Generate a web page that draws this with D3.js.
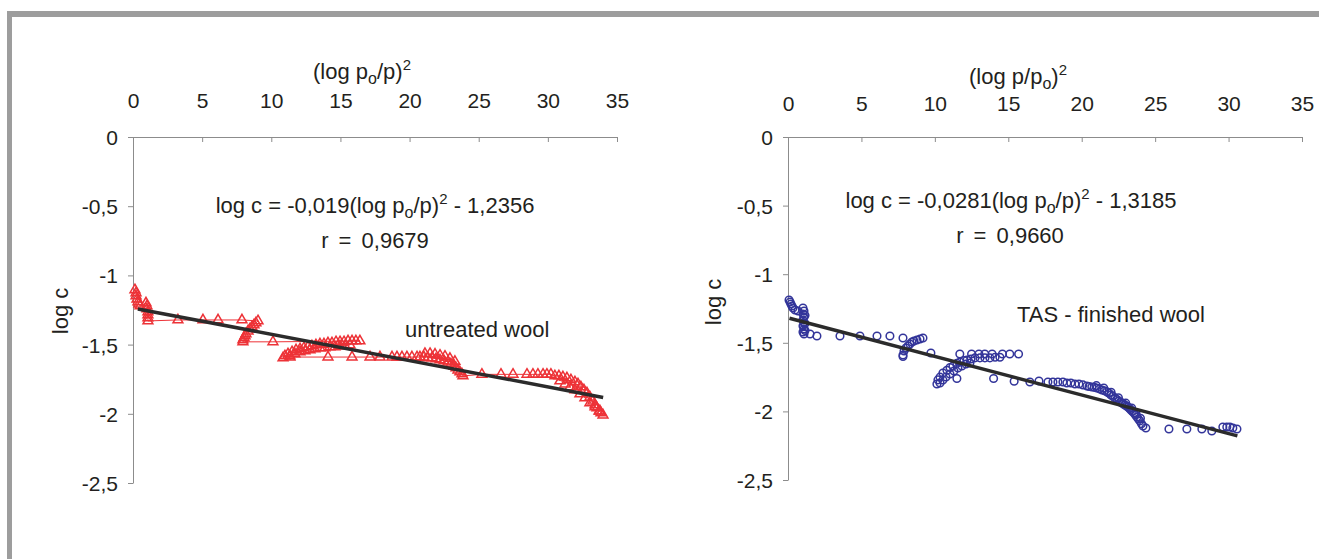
<!DOCTYPE html>
<html><head><meta charset="utf-8">
<script src="https://cdn.jsdelivr.net/npm/d3@7"></script>
<style>
body{margin:0;background:#fff}
svg{display:block}
text{font-family:"Liberation Sans",Arial,sans-serif;fill:#231f20}
</style></head>
<body><svg id="c" width="1319" height="559"></svg>
<script>
const xTicks=[0,5,10,15,20,25,30,35];
const yTicks=[0,-0.5,-1,-1.5,-2,-2.5];

// untreated wool (red triangles, joined in measurement order)
const untreated=[
[0.14,-1.105],[0.22,-1.127],[0.22,-1.149],[0.29,-1.171],[0.36,-1.192],[0.43,-1.207],[0.51,-1.221],
[0.94,-1.199],[1.01,-1.221],[1.01,-1.243],[1.08,-1.264],[1.08,-1.286],[1.08,-1.308],[1.08,-1.329],
[3.25,-1.322],[5.06,-1.322],[6.15,-1.322],[7.88,-1.322],
[9.04,-1.329],[8.89,-1.344],[8.75,-1.358],[8.60,-1.373],[8.46,-1.387],[8.32,-1.402],[8.17,-1.423],[8.10,-1.438],[8.03,-1.452],[7.95,-1.466],[7.95,-1.48],
[10.12,-1.48],
[16.41,-1.474],[16.12,-1.474],[15.84,-1.474],[15.69,-1.503],[15.55,-1.474],[15.33,-1.51],[15.26,-1.48],[14.97,-1.51],[14.97,-1.48],[14.68,-1.48],[14.61,-1.517],[14.39,-1.488],[14.24,-1.517],[14.10,-1.488],[13.88,-1.524],[13.81,-1.496],[13.52,-1.524],[13.52,-1.496],[13.23,-1.503],[13.16,-1.532],[12.94,-1.51],[12.80,-1.539],[12.65,-1.517],[12.44,-1.546],[12.36,-1.524],[12.08,-1.553],[12.08,-1.532],[11.79,-1.539],[11.71,-1.568],[11.50,-1.553],[11.35,-1.582],[11.21,-1.568],[10.99,-1.582],[10.85,-1.597],
[11.35,-1.59],[14.10,-1.59],[15.84,-1.59],[17.14,-1.59],[17.86,-1.59],[18.73,-1.59],[19.09,-1.59],[19.45,-1.59],[19.81,-1.59],[20.17,-1.59],[20.54,-1.59],
[20.75,-1.59],[21.04,-1.59],[21.11,-1.565],[21.33,-1.597],[21.48,-1.565],[21.62,-1.597],[21.84,-1.57],[21.91,-1.604],[22.20,-1.578],[22.20,-1.611],[22.49,-1.618],[22.56,-1.585],[22.78,-1.626],[22.92,-1.60],[22.99,-1.64],[23.21,-1.655],[23.28,-1.622],[23.36,-1.669],[23.50,-1.684],[23.64,-1.698],[23.79,-1.712],[23.86,-1.726],
[25.23,-1.715],[26.61,-1.715],[27.48,-1.715],[28.49,-1.715],[28.92,-1.715],[29.28,-1.715],[29.65,-1.715],[29.93,-1.715],[30.22,-1.715],
[30.51,-1.727],[30.80,-1.727],[30.87,-1.763],[31.09,-1.734],[31.24,-1.785],[31.38,-1.741],[31.60,-1.806],[31.67,-1.756],[31.96,-1.770],[31.96,-1.828],[32.18,-1.785],[32.32,-1.857],[32.39,-1.806],[32.61,-1.828],[32.68,-1.886],[32.83,-1.850],[33.04,-1.879],[33.04,-1.922],[33.26,-1.908],[33.41,-1.936],[33.41,-1.951],[33.55,-1.958],[33.70,-1.980],[33.77,-1.980],[33.84,-1.994],[33.99,-2.009]
];

// TAS-finished wool (blue circles)
const tas=[
[0.07,-1.188],[0.14,-1.203],[0.20,-1.217],[0.27,-1.232],[0.34,-1.246],[0.48,-1.261],[0.68,-1.268],
[1.02,-1.246],[1.09,-1.268],[1.02,-1.29],[1.09,-1.312],[1.02,-1.334],[1.09,-1.356],[1.02,-1.378],[1.09,-1.399],[1.02,-1.421],[1.09,-1.436],[1.16,-1.30],[1.16,-1.36],[1.16,-1.41],
[1.50,-1.436],[1.97,-1.45],[3.54,-1.45],[4.90,-1.45],[6.06,-1.45],[6.94,-1.45],
[7.83,-1.465],[7.83,-1.60],[7.83,-1.589],[7.90,-1.56],[8.03,-1.538],[8.17,-1.523],[8.30,-1.509],[8.44,-1.494],[8.58,-1.487],[8.78,-1.48],[8.99,-1.472],[9.19,-1.465],
[9.73,-1.574],
[10.14,-1.80],[10.21,-1.77],[10.35,-1.75],[10.55,-1.72],[10.82,-1.70],[11.03,-1.68],[11.23,-1.67],[11.50,-1.65],[11.71,-1.64],[11.98,-1.63],[12.19,-1.625],[12.46,-1.618],[12.73,-1.61],[13.07,-1.61],[13.41,-1.61],[13.75,-1.61],[14.10,-1.605],[14.43,-1.605],
[10.35,-1.793],[10.55,-1.771],[10.76,-1.749],[11.03,-1.727],[11.30,-1.705],[11.57,-1.684],[11.84,-1.669],[12.12,-1.655],[12.39,-1.647],
[11.70,-1.582],[12.50,-1.582],[13.00,-1.582],[13.40,-1.582],[13.90,-1.582],[14.60,-1.582],[15.10,-1.582],[15.70,-1.582],
[11.50,-1.76],[14.00,-1.76],[15.40,-1.78],[16.47,-1.786],[17.09,-1.778],[17.70,-1.786],[18.04,-1.786],[18.38,-1.786],[18.72,-1.786],[18.99,-1.793],[19.26,-1.793],[19.54,-1.80],[19.81,-1.80],[20.08,-1.807],
[20.35,-1.815],[20.50,-1.818],[20.69,-1.822],[20.86,-1.825],[21.03,-1.829],[21.20,-1.836],[21.38,-1.844],[21.55,-1.85],[21.72,-1.858],[21.86,-1.868],[21.99,-1.88],[22.12,-1.89],[22.26,-1.902],[22.40,-1.913],[22.53,-1.924],[22.64,-1.932],[22.74,-1.939],[22.84,-1.946],[22.94,-1.953],[23.05,-1.961],[23.15,-1.968],[23.25,-1.979],[23.35,-1.99],[23.45,-2.001],[23.56,-2.012],[23.66,-2.026],[23.76,-2.041],[23.86,-2.055],[23.96,-2.07],[24.07,-2.09],[24.17,-2.106],[24.37,-2.121],
[21.00,-1.812],[21.50,-1.83],[22.00,-1.86],[22.50,-1.90],[23.00,-1.94],[23.40,-1.975],[23.70,-2.015],[24.00,-2.05],
[25.94,-2.128],[27.16,-2.128],[28.18,-2.128],[28.86,-2.143],[29.61,-2.114],[29.88,-2.114],[30.09,-2.114],[30.29,-2.121],[30.57,-2.128]
];

const fitUntreated={slope:-0.019,intercept:-1.2356,from:0.35,to:34.0};
const fitTas={slope:-0.0281,intercept:-1.3185,from:0.1,to:30.6};

const svg=d3.select('#c');
const fmt=d=>String(d).replace('.',',');
const axisCol='#8c8c8c';
const FS=22;

// frame
svg.append('rect').attr('x',7).attr('y',11).attr('width',1312).attr('height',6).attr('fill','#9d9d9d');
svg.append('rect').attr('x',7).attr('y',11).attr('width',5).attr('height',548).attr('fill','#9d9d9d');

function panel(p){
  const x=d3.scaleLinear([0,35],[p.l,p.r]);
  const y=d3.scaleLinear([0,-2.5],[p.t,p.b]);
  const gx=svg.append('g').attr('transform',`translate(0,${p.t})`)
    .call(d3.axisTop(x).tickValues(xTicks).tickSizeInner(-5).tickSizeOuter(0).tickPadding(p.xPad).tickFormat(fmt));
  const gy=svg.append('g').attr('transform',`translate(${p.l},0)`)
    .call(d3.axisLeft(y).tickValues(yTicks).tickSizeInner(5).tickSizeOuter(0).tickPadding(10).tickFormat(fmt));
  [gx,gy].forEach(g=>{
    g.attr('font-family',null).attr('font-size',null);
    g.select('.domain').attr('stroke',axisCol);
    g.selectAll('.tick line').attr('stroke',axisCol);
    g.selectAll('.tick text').attr('fill','#231f20').style('font-size','21px');
  });
  gy.selectAll('.tick text').attr('dy','0.36em');
  return {x,y};
}

function rich(tx,ty,parts){
  const t=svg.append('text').attr('x',tx).attr('y',ty).attr('text-anchor','middle').style('font-size',FS+'px');
  parts.forEach(pt=>{
    const s=t.append('tspan').text(pt.t);
    if(pt.sub){s.attr('dy',5).style('font-size','16px');}
    if(pt.after){s.attr('dy',pt.after);}
    if(pt.sup){s.attr('dy',-9).style('font-size','15px');}
  });
  return t;
}
function plain(tx,ty,str,anchor){
  return svg.append('text').attr('x',tx).attr('y',ty).attr('text-anchor',anchor||'middle').style('font-size',FS+'px').text(str);
}

// ---- left panel
const L=panel({l:133,r:617,t:137,b:483,xPad:29});
rich(362,79,[{t:'(log p'},{t:'o',sub:true},{t:'/p)',after:-5},{t:'2',sup:true}]);
svg.append('text').attr('transform','translate(68,311) rotate(-90)').attr('text-anchor','middle').style('font-size',FS+'px').text('log c');
rich(375,213,[{t:'log c = -0,019(log p'},{t:'o',sub:true},{t:'/p)',after:-5},{t:'2',sup:true},{t:' - 1,2356',after:9}]);
plain(375,248,'r = 0,9679').style('word-spacing','4px');
plain(405,337,'untreated wool','start');

svg.append('path').datum(untreated)
  .attr('d',d3.line().x(d=>L.x(d[0])).y(d=>L.y(d[1])))
  .attr('fill','none').attr('stroke','#ed3237').attr('stroke-width',1);
svg.append('g').selectAll('path').data(untreated).join('path')
  .attr('transform',d=>`translate(${L.x(d[0])},${L.y(d[1])})`)
  .attr('d',d3.symbol(d3.symbolTriangle,42)())
  .attr('fill','none').attr('stroke','#ed3237').attr('stroke-width',1.5);
svg.append('line')
  .attr('x1',L.x(fitUntreated.from)).attr('y1',L.y(fitUntreated.slope*fitUntreated.from+fitUntreated.intercept))
  .attr('x2',L.x(fitUntreated.to)).attr('y2',L.y(fitUntreated.slope*fitUntreated.to+fitUntreated.intercept))
  .attr('stroke','#2b2b2b').attr('stroke-width',3.5);

// ---- right panel
const R=panel({l:788,r:1302,t:137,b:480,xPad:26});
rich(1018,84,[{t:'(log p/p'},{t:'o',sub:true},{t:')',after:-5},{t:'2',sup:true}]);
svg.append('text').attr('transform','translate(721,302) rotate(-90)').attr('text-anchor','middle').style('font-size',FS+'px').text('log c');
rich(1011,208,[{t:'log c = -0,0281(log p'},{t:'o',sub:true},{t:'/p)',after:-5},{t:'2',sup:true},{t:' - 1,3185',after:9}]);
plain(1010,243,'r = 0,9660').style('word-spacing','4px');
plain(1017,322,'TAS - finished wool','start');

svg.append('g').selectAll('circle').data(tas).join('circle')
  .attr('cx',d=>R.x(d[0])).attr('cy',d=>R.y(d[1])).attr('r',3.8)
  .attr('fill','none').attr('stroke','#33359a').attr('stroke-width',1.5);
svg.append('line')
  .attr('x1',R.x(fitTas.from)).attr('y1',R.y(fitTas.slope*fitTas.from+fitTas.intercept))
  .attr('x2',R.x(fitTas.to)).attr('y2',R.y(fitTas.slope*fitTas.to+fitTas.intercept))
  .attr('stroke','#2b2b2b').attr('stroke-width',3.5);
</script></body></html>
